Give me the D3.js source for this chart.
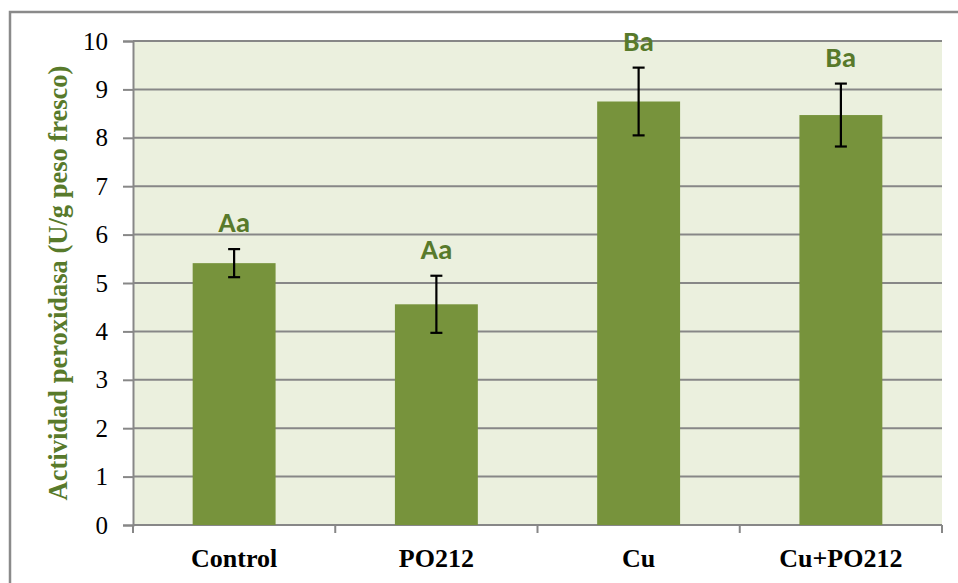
<!DOCTYPE html>
<html>
<head>
<meta charset="utf-8">
<script src="https://cdn.jsdelivr.net/npm/d3@7"></script>
<style>
  html, body { margin: 0; padding: 0; background: #ffffff; }
  svg { display: block; }
</style>
</head>
<body>
<svg id="chart" width="958" height="583"></svg>
<script>
// Treatments and peroxidase activity (U/g fresh weight)
const categories = ["Control", "PO212", "Cu", "Cu+PO212"];
const meanValues = [5.41, 4.56, 8.75, 8.47];
const errorValues = [0.29, 0.59, 0.70, 0.65];
const groupLetters = ["Aa", "Aa", "Ba", "Ba"];
const yTicks = [0, 1, 2, 3, 4, 5, 6, 7, 8, 9, 10];

const svg = d3.select("#chart");
const W = 958, H = 583;
const plot = { left: 133, right: 942, top: 41, bottom: 525 };

const gridColor = "#878787";
const barColor = "#77933c";
const textGreen = "#587a2b";
const serif = "'Liberation Serif', 'Times New Roman', serif";
const calibri = "Carlito, Lato, sans-serif";

// Outer chart frame (only top and left edges fall inside the view)
svg.append("rect")
  .attr("x", 10).attr("y", 12)
  .attr("width", W).attr("height", H)
  .attr("fill", "#ffffff")
  .attr("stroke", "#8a8a8a")
  .attr("stroke-width", 2.5);

const x = d3.scaleBand()
  .domain(categories)
  .range([plot.left, plot.right])
  .paddingInner(0.59)
  .paddingOuter(0.295);

const y = d3.scaleLinear()
  .domain([0, 10])
  .range([plot.bottom, plot.top]);

// Plot background
svg.append("rect")
  .attr("x", plot.left).attr("y", plot.top)
  .attr("width", plot.right - plot.left)
  .attr("height", plot.bottom - plot.top)
  .attr("fill", "#ebf0de");

// Horizontal gridlines
svg.append("g")
  .selectAll("line")
  .data(yTicks.filter(d => d > 0))
  .join("line")
  .attr("x1", plot.left).attr("x2", plot.right)
  .attr("y1", d => y(d)).attr("y2", d => y(d))
  .attr("stroke", gridColor)
  .attr("stroke-width", 2);

// Y axis
const yAxis = svg.append("g")
  .attr("transform", `translate(${plot.left},0)`)
  .call(d3.axisLeft(y).tickValues(yTicks).tickSize(10).tickPadding(15).tickFormat(d3.format("d")));
yAxis.select(".domain").attr("stroke", gridColor).attr("stroke-width", 2);
yAxis.selectAll(".tick line").attr("stroke", gridColor).attr("stroke-width", 2);
yAxis.selectAll(".tick text")
  .attr("fill", "#000")
  .style("font-family", serif)
  .style("font-size", "25px");

// X axis with tick marks at category boundaries
const xAxisG = svg.append("g");
xAxisG.append("line")
  .attr("x1", plot.left).attr("x2", plot.right)
  .attr("y1", plot.bottom).attr("y2", plot.bottom)
  .attr("stroke", gridColor).attr("stroke-width", 2);
const step = x.step();
const boundaries = d3.range(categories.length + 1).map(i => plot.left + i * step);
xAxisG.selectAll("line.tk")
  .data(boundaries)
  .join("line")
  .attr("class", "tk")
  .attr("x1", d => d).attr("x2", d => d)
  .attr("y1", plot.bottom).attr("y2", plot.bottom + 8)
  .attr("stroke", gridColor).attr("stroke-width", 2);
xAxisG.selectAll("text")
  .data(categories)
  .join("text")
  .attr("x", d => x(d) + x.bandwidth() / 2)
  .attr("y", 567)
  .attr("text-anchor", "middle")
  .attr("fill", "#000")
  .style("font-family", serif)
  .style("font-weight", "bold")
  .style("font-size", "26px")
  .text(d => d);

// Bars
const rows = categories.map((c, i) => ({ c, v: meanValues[i], e: errorValues[i], g: groupLetters[i] }));
svg.append("g")
  .selectAll("rect")
  .data(rows)
  .join("rect")
  .attr("x", d => x(d.c))
  .attr("y", d => y(d.v))
  .attr("width", x.bandwidth())
  .attr("height", d => y(0) - y(d.v))
  .attr("fill", barColor);

// Error bars
const eb = svg.append("g").attr("stroke", "#000").attr("stroke-width", 2.2);
rows.forEach(d => {
  const cx = x(d.c) + x.bandwidth() / 2;
  eb.append("line").attr("x1", cx).attr("x2", cx).attr("y1", y(d.v + d.e)).attr("y2", y(d.v - d.e));
  eb.append("line").attr("x1", cx - 6).attr("x2", cx + 6).attr("y1", y(d.v + d.e)).attr("y2", y(d.v + d.e));
  eb.append("line").attr("x1", cx - 6).attr("x2", cx + 6).attr("y1", y(d.v - d.e)).attr("y2", y(d.v - d.e));
});

// Significance letters above each error bar
svg.append("g")
  .selectAll("text")
  .data(rows)
  .join("text")
  .attr("x", d => x(d.c) + x.bandwidth() / 2)
  .attr("y", d => y(d.v + d.e) - 17)
  .attr("text-anchor", "middle")
  .attr("fill", textGreen)
  .style("font-family", calibri)
  .style("font-weight", "bold")
  .style("font-size", "29px")
  .text(d => d.g);

// Y axis title
svg.append("text")
  .attr("transform", `translate(67,${(plot.top + plot.bottom) / 2}) rotate(-90)`)
  .attr("text-anchor", "middle")
  .attr("fill", textGreen)
  .style("font-family", serif)
  .style("font-weight", "bold")
  .style("font-size", "26.5px")
  .text("Actividad peroxidasa (U/g peso fresco)");
</script>
</body>
</html>
